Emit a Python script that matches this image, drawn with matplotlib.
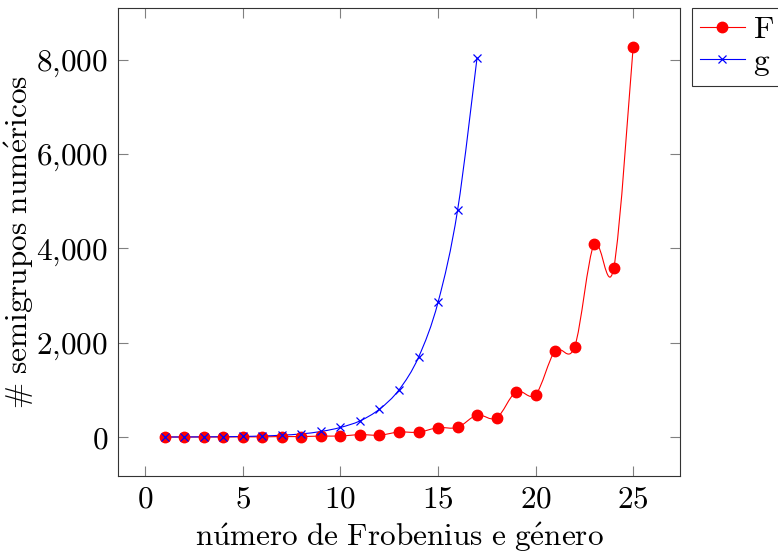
import matplotlib
matplotlib.use("Agg")
import matplotlib.pyplot as plt
import numpy as np
from matplotlib.path import Path
from matplotlib.patches import PathPatch
from matplotlib.lines import Line2D
from matplotlib.ticker import FuncFormatter

plt.rcParams['mathtext.fontset'] = 'cm'
plt.rcParams['font.family'] = ['cmr10', 'DejaVu Serif']
plt.rcParams['axes.unicode_minus'] = False

# Data
F_x = list(range(1, 26))
F_y = [1, 1, 2, 2, 5, 4, 11, 10, 21, 22, 51, 40, 106, 103, 200, 205, 465, 405,
       961, 900, 1828, 1913, 4096, 3578, 8273]
g_x = list(range(1, 18))
g_y = [1, 2, 4, 7, 12, 23, 39, 67, 118, 204, 343, 592, 1001, 1693, 2857, 4806, 8045]
x_ticks = [0, 5, 10, 15, 20, 25]
y_ticks = [0, 2000, 4000, 6000, 8000]


def smooth_path(xs, ys, tension=0.5):
    p = np.column_stack([xs, ys]).astype(float)
    n = len(p)
    k = tension / 3.0
    verts = [p[0]]
    codes = [Path.MOVETO]
    for i in range(n - 1):
        prev = p[i - 1] if i > 0 else p[i]
        nxt2 = p[i + 2] if i + 2 < n else p[i + 1]
        c1 = p[i] + k * (p[i + 1] - prev)
        c2 = p[i + 1] - k * (nxt2 - p[i])
        verts += [c1, c2, p[i + 1]]
        codes += [Path.CURVE4] * 3
    return Path(verts, codes)


fig = plt.figure(figsize=(7.78, 5.59), dpi=100)
ax = fig.add_axes([118 / 778, 1 - 476 / 559, (680 - 118) / 778, (476 - 8) / 559])

fs = 22.5
ax.add_patch(PathPatch(smooth_path(F_x, F_y), facecolor='none', edgecolor='red', lw=0.8))
ax.plot(F_x, F_y, 'o', color='red', ms=7.5, mec='red')
ax.add_patch(PathPatch(smooth_path(g_x, g_y), facecolor='none', edgecolor='blue', lw=0.8))
ax.plot(g_x, g_y, 'x', color='blue', ms=5.5, mew=0.9)

ax.set_xlim(-1.4, 27.4)
ax.set_ylim(-826, 9100)
ax.set_xticks(x_ticks)
ax.set_yticks(y_ticks)
ax.xaxis.set_major_formatter(FuncFormatter(lambda v, p: r'$%d$' % v))
ax.yaxis.set_major_formatter(FuncFormatter(lambda v, p: (r'$%s$' % format(int(v), ',').replace(',', '{,}'))))
ax.tick_params(direction='in', length=7.5, width=0.8, color='0.5', top=True, right=True,
               labelsize=fs, pad=7)
for s in ax.spines.values():
    s.set_linewidth(0.8)
    s.set_color('0.2')

ax.set_xlabel(r'$\mathrm{n\acute{u}mero\ de\ Frobenius\ e\ g\acute{e}nero}$', fontsize=fs, labelpad=5)
ax.set_ylabel(r'$\mathrm{\#\ semigrupos\ num\acute{e}ricos}$', fontsize=fs, labelpad=0)

handles = [Line2D([], [], color='red', lw=0.8, marker='o', ms=7.5),
           Line2D([], [], color='blue', lw=0.8, marker='x', ms=5.5, mew=0.9)]
leg = fig.legend(handles, [r'$\mathrm{F}$', r'$\mathrm{g}$'], loc='upper left',
                 bbox_to_anchor=(692 / 778, 1 - 8 / 559), bbox_transform=fig.transFigure,
                 borderaxespad=0, fontsize=fs, frameon=True, fancybox=False,
                 handlelength=1.45, handletextpad=0.25, borderpad=0.25, labelspacing=0.15)
leg.get_frame().set_edgecolor('black')
leg.get_frame().set_linewidth(0.8)

fig.savefig('out.png', dpi=100)
